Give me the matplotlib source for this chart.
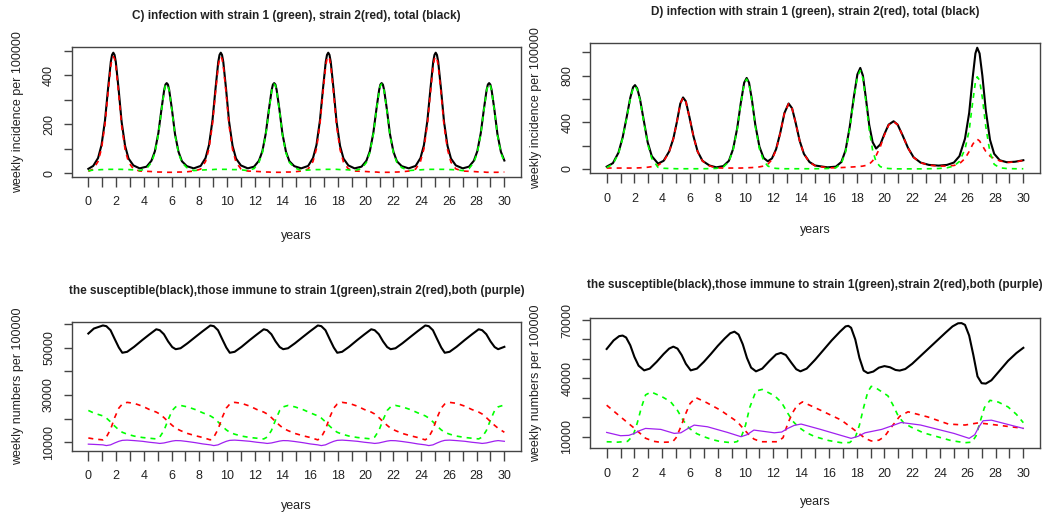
import matplotlib
matplotlib.use("Agg")
import matplotlib.pyplot as plt

plt.rcParams['font.family'] = ['Liberation Sans', 'DejaVu Sans']

# ---------------- panel C: incidence, strains alternate ----------------
years_c = [0.0,
           0.35, 0.7, 0.95, 1.2, 1.42, 1.62, 1.71, 1.8, 1.89, 1.98, 2.18, 2.4, 2.65, 2.9, 3.25, 3.7,
           4.2, 4.55, 4.8, 5.05, 5.27, 5.47, 5.56, 5.65, 5.74, 5.83, 6.03, 6.25, 6.5, 6.75, 7.1, 7.6,
           8.1, 8.45, 8.7, 8.95, 9.17, 9.37, 9.46, 9.55, 9.64, 9.73, 9.93, 10.15, 10.4, 10.65, 11.0, 11.5,
           11.95, 12.3, 12.55, 12.8, 13.02, 13.22, 13.31, 13.4, 13.49, 13.58, 13.78, 14.0, 14.25, 14.5, 14.85, 15.35,
           15.85, 16.2, 16.45, 16.7, 16.92, 17.12, 17.21, 17.3, 17.39, 17.48, 17.68, 17.9, 18.15, 18.4, 18.75, 19.2,
           19.7, 20.05, 20.3, 20.55, 20.77, 20.97, 21.06, 21.15, 21.24, 21.33, 21.53, 21.75, 22.0, 22.25, 22.6, 23.1,
           23.6, 23.95, 24.2, 24.45, 24.67, 24.87, 24.96, 25.05, 25.14, 25.23, 25.43, 25.65, 25.9, 26.15, 26.5, 27.0,
           27.45, 27.8, 28.05, 28.3, 28.52, 28.72, 28.81, 28.9, 28.99, 29.08, 29.28, 29.5, 29.75, 30.0]
c_total = [18,
           30, 62, 115, 215, 345, 455, 483, 492, 483, 455, 345, 210, 112, 60, 32, 20,
           27, 51, 90, 164, 260, 340, 362, 368, 362, 340, 260, 160, 88, 49, 29, 20,
           30, 62, 115, 215, 345, 455, 483, 492, 483, 455, 345, 210, 112, 60, 32, 20,
           27, 51, 90, 164, 260, 340, 362, 368, 362, 340, 260, 160, 88, 49, 29, 20,
           30, 62, 115, 215, 345, 455, 483, 492, 483, 455, 345, 210, 112, 60, 32, 20,
           27, 51, 90, 164, 260, 340, 362, 368, 362, 340, 260, 160, 88, 49, 29, 20,
           30, 62, 115, 215, 345, 455, 483, 492, 483, 455, 345, 210, 112, 60, 32, 20,
           27, 51, 90, 164, 260, 340, 362, 368, 362, 340, 260, 160, 88, 52]
c_strain1 = [10,
             13, 14, 15, 15, 16, 16, 16, 16, 16, 16, 16, 16, 15, 15, 14, 11,
             19, 44, 84, 159, 255, 336, 358, 364, 358, 336, 256, 156, 83, 44, 23, 11,
             13, 14, 15, 15, 16, 16, 16, 16, 16, 16, 16, 16, 15, 15, 14, 11,
             19, 44, 84, 159, 255, 336, 358, 364, 358, 336, 256, 156, 83, 44, 23, 11,
             13, 14, 15, 15, 16, 16, 16, 16, 16, 16, 16, 16, 15, 15, 14, 11,
             19, 44, 84, 159, 255, 336, 358, 364, 358, 336, 256, 156, 83, 44, 23, 11,
             13, 14, 15, 15, 16, 16, 16, 16, 16, 16, 16, 16, 15, 15, 14, 11,
             19, 44, 84, 159, 255, 336, 358, 364, 358, 336, 256, 156, 83, 47]
c_strain2 = [8,
             17, 48, 100, 200, 329, 439, 467, 476, 467, 439, 329, 194, 97, 45, 18, 9,
             8, 7, 6, 5, 5, 4, 4, 4, 4, 4, 4, 4, 5, 5, 6, 9,
             17, 48, 100, 200, 329, 439, 467, 476, 467, 439, 329, 194, 97, 45, 18, 9,
             8, 7, 6, 5, 5, 4, 4, 4, 4, 4, 4, 4, 5, 5, 6, 9,
             17, 48, 100, 200, 329, 439, 467, 476, 467, 439, 329, 194, 97, 45, 18, 9,
             8, 7, 6, 5, 5, 4, 4, 4, 4, 4, 4, 4, 5, 5, 6, 9,
             17, 48, 100, 200, 329, 439, 467, 476, 467, 439, 329, 194, 97, 45, 18, 9,
             8, 7, 6, 5, 5, 4, 4, 4, 4, 4, 4, 4, 5, 5]

# ---------------- panel D: incidence, irregular ----------------
years_d = [0.0, 0.45, 0.85, 1.15, 1.45, 1.7, 1.9, 2.04, 2.2, 2.4, 2.65, 2.95, 3.25, 3.7,
           4.1, 4.5, 4.8, 5.05, 5.3, 5.5, 5.7, 5.95, 6.25, 6.55, 6.9, 7.4, 7.9,
           8.4, 8.8, 9.1, 9.4, 9.65, 9.9, 10.08, 10.25, 10.45, 10.7, 11.0, 11.3, 11.6,
           11.9, 12.2, 12.5, 12.8, 13.1, 13.35, 13.6, 13.9, 14.2, 14.6, 15.0, 15.9,
           16.5, 16.9, 17.2, 17.5, 17.8, 18.05, 18.26, 18.45, 18.65, 18.9, 19.15, 19.4,
           19.7, 20.0, 20.3, 20.66, 20.95, 21.3, 21.7, 22.1, 22.6, 23.2, 23.9,
           24.5, 25.0, 25.4, 25.8, 26.1, 26.35, 26.55, 26.68, 26.85, 27.05, 27.3, 27.6, 27.9,
           28.3, 28.8, 29.4, 30.0]
d_total = [20, 50, 140, 270, 450, 610, 700, 719, 690, 600, 430, 230, 110, 46,
           70, 150, 260, 400, 560, 613, 580, 450, 280, 150, 70, 30, 14,
           25, 70, 170, 350, 560, 740, 780, 740, 600, 380, 190, 95, 66,
           90, 170, 310, 480, 561, 520, 400, 240, 130, 60, 30, 14,
           20, 60, 160, 360, 620, 810, 866, 800, 620, 380, 230, 175,
           210, 300, 380, 409, 380, 290, 180, 100, 55, 35, 29,
           35, 55, 110, 260, 480, 780, 990, 1039, 990, 800, 500, 250, 130,
           75, 58, 62, 75]
d_strain1 = [12, 42, 132, 262, 442, 602, 692, 711, 681, 590, 418, 215, 90, 14,
             6, 4, 3, 2, 2, 2, 2, 2, 2, 2, 2, 3, 5,
             17, 62, 162, 342, 552, 731, 770, 729, 588, 366, 172, 70, 26,
             10, 5, 3, 2, 2, 2, 2, 2, 2, 2, 2, 4,
             10, 48, 146, 344, 602, 790, 844, 775, 590, 340, 160, 60,
             20, 8, 4, 2, 1, 1, 1, 1, 1, 2, 4,
             10, 25, 65, 170, 330, 570, 745, 790, 760, 610, 360, 140, 40,
             10, 4, 2, 2]
d_strain2 = [8, 8, 8, 8, 8, 8, 8, 8, 9, 10, 12, 15, 20, 32,
             64, 146, 257, 398, 558, 611, 578, 448, 278, 148, 68, 27, 9,
             8, 8, 8, 8, 8, 9, 10, 11, 12, 14, 18, 25, 40,
             80, 165, 307, 478, 559, 518, 398, 238, 128, 58, 28, 10,
             10, 12, 14, 16, 18, 20, 22, 25, 30, 40, 70, 115,
             190, 292, 376, 407, 379, 289, 179, 99, 54, 33, 25,
             25, 30, 45, 90, 150, 210, 245, 255, 240, 200, 150, 110, 90,
             70, 56, 60, 73]

# ---------------- bottom left: susceptibles / immunes ----------------
years_s1 = [0.0, 0.4,
            1.05, 1.3, 1.6, 1.9, 2.2, 2.45, 2.8, 3.3, 3.9, 4.4,
            4.9, 5.15, 5.45, 5.75, 6.05, 6.3, 6.65, 7.15, 7.75, 8.25,
            8.8, 9.05, 9.35, 9.65, 9.95, 10.2, 10.55, 11.05, 11.65, 12.15,
            12.65, 12.9, 13.2, 13.5, 13.8, 14.05, 14.4, 14.9, 15.5, 16.0,
            16.55, 16.8, 17.1, 17.4, 17.7, 17.95, 18.3, 18.8, 19.4, 19.9,
            20.4, 20.65, 20.95, 21.25, 21.55, 21.8, 22.15, 22.65, 23.25, 23.75,
            24.3, 24.55, 24.85, 25.15, 25.45, 25.7, 26.05, 26.55, 27.15, 27.65,
            28.15, 28.4, 28.7, 29.0, 29.3, 29.55, 30.0]
s1_susc = [55900, 58000,
           59300, 59000, 57300, 53600, 50000, 47800, 48200, 50300, 53200, 55500,
           57700, 57300, 55600, 52600, 50200, 49300, 49700, 51800, 54600, 56900,
           59300, 59000, 57300, 53600, 50000, 47800, 48200, 50300, 53200, 55500,
           57700, 57300, 55600, 52600, 50200, 49300, 49700, 51800, 54600, 56900,
           59300, 59000, 57300, 53600, 50000, 47800, 48200, 50300, 53200, 55500,
           57700, 57300, 55600, 52600, 50200, 49300, 49700, 51800, 54600, 56900,
           59300, 59000, 57300, 53600, 50000, 47800, 48200, 50300, 53200, 55500,
           57700, 57300, 55600, 52600, 50200, 49300, 50300]
s1_imm1 = [23500, 22400,
           21200, 20300, 18700, 16900, 15300, 14300, 13500, 12700, 12100, 11800,
           11500, 12300, 15000, 19500, 23500, 25000, 25600, 25000, 23800, 22500,
           21200, 20300, 18700, 16900, 15300, 14300, 13500, 12700, 12100, 11800,
           11500, 12300, 15000, 19500, 23500, 25000, 25600, 25000, 23800, 22500,
           21200, 20300, 18700, 16900, 15300, 14300, 13500, 12700, 12100, 11800,
           11500, 12300, 15000, 19500, 23500, 25000, 25600, 25000, 23800, 22500,
           21200, 20300, 18700, 16900, 15300, 14300, 13500, 12700, 12100, 11800,
           11500, 12300, 15000, 19500, 23500, 25000, 25800]
s1_imm2 = [11900, 11500,
           11100, 12300, 15500, 20500, 24500, 26200, 26900, 26500, 25300, 23900,
           22800, 22000, 20500, 18800, 17200, 16000, 15000, 13800, 12800, 12100,
           11100, 12300, 15500, 20500, 24500, 26200, 26900, 26500, 25300, 23900,
           22800, 22000, 20500, 18800, 17200, 16000, 15000, 13800, 12800, 12100,
           11100, 12300, 15500, 20500, 24500, 26200, 26900, 26500, 25300, 23900,
           22800, 22000, 20500, 18800, 17200, 16000, 15000, 13800, 12800, 12100,
           11100, 12300, 15500, 20500, 24500, 26200, 26900, 26500, 25300, 23900,
           22800, 22000, 20500, 18800, 17200, 16000, 14300]
s1_both = [9300, 9200,
           9000, 8700, 9000, 9800, 10500, 10900, 11000, 10800, 10500, 10100,
           9800, 9600, 9800, 10200, 10600, 10800, 10750, 10400, 9900, 9400,
           9000, 8700, 9000, 9800, 10500, 10900, 11000, 10800, 10500, 10100,
           9800, 9600, 9800, 10200, 10600, 10800, 10750, 10400, 9900, 9400,
           9000, 8700, 9000, 9800, 10500, 10900, 11000, 10800, 10500, 10100,
           9800, 9600, 9800, 10200, 10600, 10800, 10750, 10400, 9900, 9400,
           9000, 8700, 9000, 9800, 10500, 10900, 11000, 10800, 10500, 10100,
           9800, 9600, 9800, 10200, 10600, 10800, 10500]

# ---------------- bottom right: susceptibles / immunes ----------------
years_s2 = [0.0, 0.5, 0.9, 1.15, 1.4, 1.7, 2.0, 2.3, 2.7, 3.1, 3.6, 4.1, 4.5, 4.8,
            5.1, 5.4, 5.7, 6.05, 6.5, 7.0, 7.5, 8.0, 8.5, 8.9, 9.2, 9.5, 9.8,
            10.1, 10.4, 10.75, 11.2, 11.7, 12.2, 12.55, 12.9, 13.3, 13.65, 13.95,
            14.4, 15.0, 15.6, 16.2, 16.8, 17.2, 17.4, 17.6, 17.9, 18.2, 18.5, 18.8,
            19.2, 19.6, 20.0, 20.4, 20.8, 21.1, 21.5, 22.0, 22.6, 23.2, 23.8, 24.4,
            24.9, 25.3, 25.55, 25.8, 26.1, 26.4, 26.7, 27.0, 27.3, 27.7, 28.3, 28.9,
            29.5, 30.0]
s2_susc = [55100, 59500, 61700, 62000, 61000, 57000, 51000, 46500, 44100, 45000, 48500, 52500, 55300, 56300,
           55300, 52000, 47500, 44100, 45000, 48500, 52500, 56700, 60500, 63200, 64000, 62500, 57500,
           50500, 45500, 43600, 45000, 48800, 52300, 53100, 52000, 48000, 44700, 43600,
           45000, 49500, 54500, 59500, 64000, 66700, 67000, 66000, 60000, 50500, 44000, 42700,
           43500, 45500, 46300, 45700, 44300, 44000, 44800, 47500, 51500, 55500, 59500, 63500,
           66700, 68300, 68400, 67500, 62000, 52000, 41000, 37500, 37300, 39000, 44000, 49000,
           53000, 55700]
years_imm1_2 = [0, 0.8, 1.5, 1.9, 2.2, 2.5, 2.8, 3.2, 4.0, 4.6, 5.1, 5.5, 5.95, 6.5, 7.0, 7.6,
                8.2, 9.0, 9.4, 9.7, 10.0, 10.3, 10.75, 11.2, 12.1, 12.6, 13.0, 13.4, 13.8,
                14.4, 15.0, 16.0, 16.9, 17.5, 17.9, 18.2, 18.5, 18.8, 19.05, 19.4, 20.25,
                20.6, 21.0, 21.4, 21.9, 22.8, 23.8, 24.8, 25.8, 26.3, 26.6, 26.9, 27.2,
                27.6, 28.2, 28.9, 29.5, 30.0]
s2_imm1 = [7400, 7200, 7600, 10500, 17000, 25000, 31500, 33000, 30500, 28000, 23500, 18500, 14300, 11500, 10000, 8500,
           7500, 6900, 7500, 10000, 16000, 25000, 33500, 34300, 31000, 27500, 22500, 18000, 15000,
           12000, 10000, 8000, 6900, 7000, 9500, 16000, 25000, 33000, 35900, 35000, 31000,
           26500, 20500, 17000, 15000, 12000, 10000, 8000, 6900, 7200, 10500, 18000, 25000,
           28700, 27800, 25300, 21500, 17200]
years_imm2_2 = [0, 1.0, 2.0, 2.8, 3.4, 3.9, 4.74, 5.0, 5.34, 5.7, 6.0, 6.42, 7.2, 8.2, 9.4,
                10.15, 10.6, 11.1, 12.3, 12.7, 13.04, 13.4, 13.7, 14.1, 15.4, 16.9, 17.85,
                18.6, 19.05, 19.6, 20.0, 20.35, 20.7, 21.1, 21.7, 23.1, 24.6, 25.8, 26.75,
                27.5, 30.0]
s2_imm2 = [26200, 20200, 14300, 9200, 7600, 7100, 7300, 9500, 15100, 22000, 27000, 30100, 27500, 23600, 17700,
           11700, 8800, 7400, 7400, 9500, 16800, 22500, 26000, 27900, 23600, 18500, 13400,
           9200, 7800, 8200, 10000, 13500, 16800, 20500, 22800, 20200, 16500, 16000, 17100,
           16500, 14300]
years_both_2 = [0, 1.0, 1.6, 2.0, 2.4, 2.8, 3.9, 4.86, 5.34, 5.8, 6.3, 7.26, 8.7, 9.67, 10.1,
                10.6, 12.07, 12.6, 13.04, 13.5, 14.0, 15.4, 17.6, 18.1, 18.6, 19.8, 20.5,
                21.2, 22.6, 25.0, 26.1, 26.5, 26.8, 27.1, 27.7, 30.0]
s2_both = [12200, 10500, 10700, 11700, 13200, 14260, 13750, 11700, 12000, 14000, 15960, 15100, 12200, 10000, 11000,
           13400, 12000, 12400, 14260, 15800, 16500, 13750, 9150, 10200, 12000, 13750, 15500,
           17300, 16000, 11700, 9150, 11000, 15000, 18200, 18500, 14260]

TITLE_INF_C = "C) infection with strain 1 (green), strain 2(red), total (black)"
TITLE_INF_D = "D) infection with strain 1 (green), strain 2(red), total (black)"
TITLE_SUS = "the susceptible(black),those immune to strain 1(green),strain 2(red),both (purple)"

GREEN = "#00FF00"
RED = "#FF0000"
PURPLE = "#A020F0"
INK = "#222222"
BOX = "#444444"
W, H = 1044, 514


def make_axes(fig, box):
    # box = (left, top, right, bottom) in pixels
    l, t, r, b = box
    return fig.add_axes([l / W, (H - b) / H, (r - l) / W, (b - t) / H])


def style(ax, box, ylim, yticks, ylabels, ylab, title, title_y, xlab_y):
    l, t, r, b = box
    ax.set_xlim(-1.2, 31.2)
    ax.set_ylim(*ylim)
    ax.set_xticks(range(31))
    ax.set_xticklabels([str(i) if i % 2 == 0 else "" for i in range(31)])
    ax.set_yticks(yticks)
    ax.set_yticklabels(ylabels, rotation=90, va="center", ha="right")
    ax.tick_params(axis="x", direction="out", length=7, width=1, pad=7,
                   labelsize=9, color=BOX, labelcolor=INK)
    ax.tick_params(axis="y", direction="out", length=6, width=1, pad=6,
                   labelsize=9, color=BOX, labelcolor=INK)
    for sp in ax.spines.values():
        sp.set_color(BOX)
        sp.set_linewidth(1.0)
    hh = b - t
    ww = r - l
    ax.text(0.5, 1 + (t - title_y) / hh, title, transform=ax.transAxes,
            ha="center", va="center", fontsize=8.5, fontweight="bold", color=INK)
    ax.text(0.5, -(xlab_y - b) / hh, "years", transform=ax.transAxes,
            ha="center", va="center", fontsize=9, color=INK)
    ax.text(-54 / ww, 0.5, ylab, transform=ax.transAxes,
            ha="center", va="center", rotation=90, fontsize=9, color=INK)


fig = plt.figure(figsize=(W / 100, H / 100), dpi=100)

box_c = (71.7, 47.3, 521, 176.7)
ax = make_axes(fig, box_c)
ax.plot(years_c, c_total, color="black", lw=1.5)
ax.plot(years_c, c_strain2, color=RED, lw=1.2, ls=(0, (3, 3)))
ax.plot(years_c, c_strain1, color=GREEN, lw=1.2, ls=(0, (3, 3)))
style(ax, box_c, (-14, 514), [0, 100, 200, 300, 400, 500],
      ["0", "", "200", "", "400", ""], "weekly incidence per 100000",
      TITLE_INF_C, 15.5, 236)

box_d = (590, 43.3, 1040, 173.3)
ax = make_axes(fig, box_d)
ax.plot(years_d, d_total, color="black", lw=1.5)
ax.plot(years_d, d_strain2, color=RED, lw=1.2, ls=(0, (3, 3)))
ax.plot(years_d, d_strain1, color=GREEN, lw=1.2, ls=(0, (3, 3)))
style(ax, box_d, (-37, 1077), [0, 200, 400, 600, 800, 1000],
      ["0", "", "400", "", "800", ""], "weekly incidence per 100000",
      TITLE_INF_D, 12.4, 230)

box_s1 = (71.7, 321.5, 521, 450.5)
ax = make_axes(fig, box_s1)
ax.plot(years_s1, s1_susc, color="black", lw=1.5)
ax.plot(years_s1, s1_imm1, color=GREEN, lw=1.2, ls=(0, (3, 3)))
ax.plot(years_s1, s1_imm2, color=RED, lw=1.2, ls=(0, (3, 3)))
ax.plot(years_s1, s1_both, color=PURPLE, lw=0.9)
style(ax, box_s1, (6625, 60970), [10000, 20000, 30000, 40000, 50000, 60000],
      ["10000", "", "30000", "", "50000", ""], "weekly numbers per 100000",
      TITLE_SUS, 290.7, 506)

box_s2 = (590, 317.7, 1040, 448.3)
ax = make_axes(fig, box_s2)
ax.plot(years_s2, s2_susc, color="black", lw=1.5)
ax.plot(years_imm1_2, s2_imm1, color=GREEN, lw=1.2, ls=(0, (3, 3)))
ax.plot(years_imm2_2, s2_imm2, color=RED, lw=1.2, ls=(0, (3, 3)))
ax.plot(years_both_2, s2_both, color=PURPLE, lw=0.9)
style(ax, box_s2, (4033, 71183), [10000, 20000, 30000, 40000, 50000, 60000, 70000],
      ["10000", "", "", "40000", "", "", "70000"], "weekly numbers per 100000",
      TITLE_SUS, 285, 502)

fig.savefig("out.png", dpi=100)
